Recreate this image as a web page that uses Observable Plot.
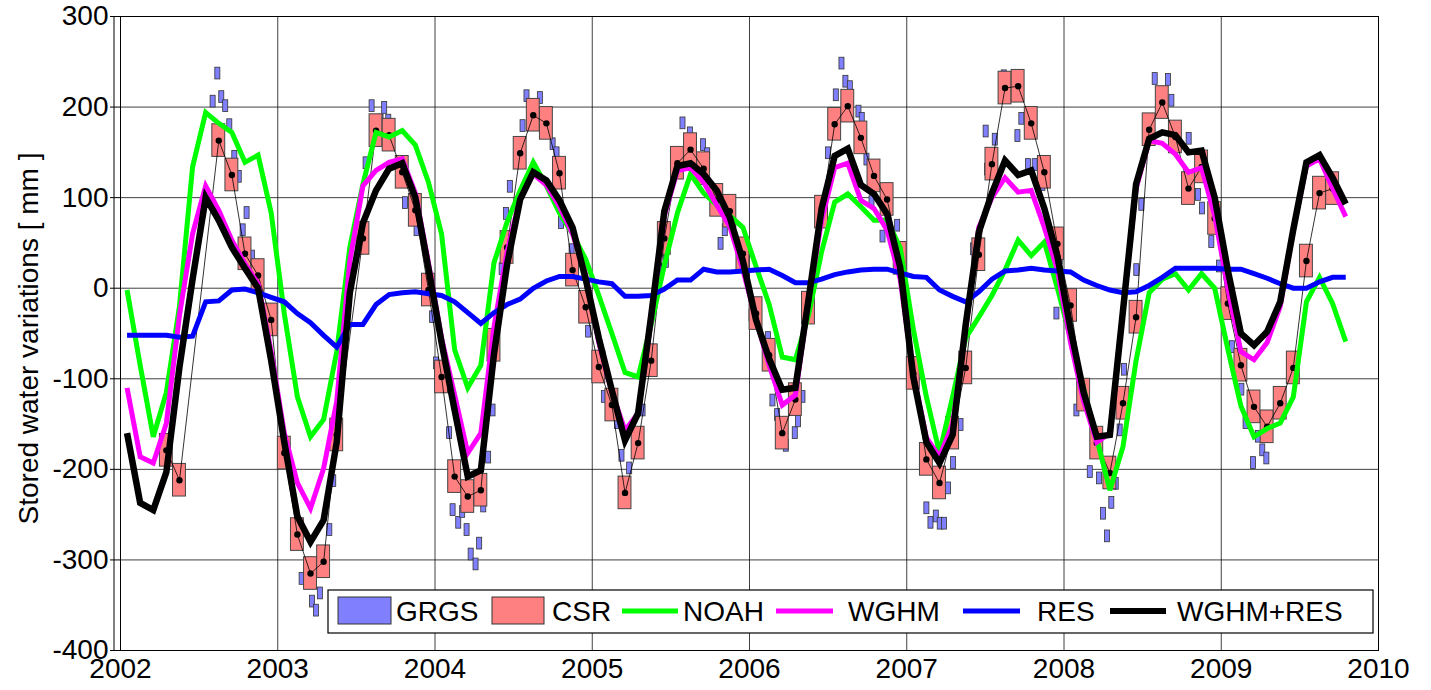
<!DOCTYPE html>
<html><head><meta charset="utf-8">
<script src="https://cdn.jsdelivr.net/npm/d3@7"></script>
<script src="https://cdn.jsdelivr.net/npm/@observablehq/plot@0.6"></script>
<style>
html,body{margin:0;padding:0;background:#fff;}
#chart{width:1431px;height:690px;}
</style></head><body><div id="chart"></div>
<script>
// Monthly model series, Jan 2002 .. Oct 2009 (mid-month)
const startYear = 2002;
const noah = [
  -2, -85, -164, -115, -20, 134, 194, 182, 172, 139, 147, 83,
  -28, -120, -164, -145, -70, 45, 115, 172, 167, 174, 158, 117,
  60, -68, -110, -85, 28, 73, 108, 139, 113, 83, 60, 32,
  -8, -50, -93, -98, -40, 25, 83, 126, 105, 92, 80, 67,
  24, -18, -76, -79, -30, 40, 95, 104, 90, 75, 75, 45,
  -45, -120, -182, -120, -55, -32, -8, 20, 53, 36, 51, 0,
  -55, -111, -166, -223, -175, -80, -5, 10, 16, -2, 16, 0,
  -67, -130, -164, -155, -149, -120, -15, 12, -17, -59
];
const wghm = [
  -110, -186, -193, -149, -30, 60, 113, 86, 53, 27, 5, -70,
  -160, -215, -243, -199, -125, 30, 113, 130, 139, 143, 105, 28,
  -55, -118, -182, -160, -43, 40, 100, 126, 114, 90, 60, 15,
  -60, -115, -157, -138, -35, 80, 130, 133, 117, 92, 68, 20,
  -35, -85, -129, -118, -15, 75, 133, 138, 97, 88, 64, 10,
  -95, -165, -186, -150, -45, 67, 100, 122, 106, 108, 67, 20,
  -60, -125, -170, -160, -25, 110, 163, 160, 148, 128, 133, 80,
  0, -70, -79, -60, -20, 65, 135, 143, 110, 79
];
const res = [
  -52, -52, -52, -52, -54, -53, -15, -14, -2, -1, -5, -10,
  -15, -28, -38, -52, -65, -40, -40, -18, -7, -5, -4, -6,
  -8, -15, -27, -39, -27, -18, -12, 0, 8, 13, 13, 10,
  7, 5, -9, -9, -8, -1, 9, 9, 21, 18, 18, 19,
  20, 21, 14, 6, 6, 10, 15, 18, 20, 21, 21, 17,
  13, 12, -2, -9, -15, -4, 10, 19, 20, 22, 20, 19,
  18, 9, 3, -2, -5, -4, 3, 12, 22, 22, 22, 22,
  21, 21, 16, 11, 5, 0, 0, 7, 12, 12
];
const wghmRes = [
  -160, -237, -245, -203, -87, 10, 100, 75, 45, 22, 0, -80,
  -170, -252, -280, -256, -170, -5, 72, 108, 132, 138, 100, 22,
  -60, -135, -208, -201, -73, 26, 98, 128, 119, 97, 67, 10,
  -55, -113, -168, -138, -30, 85, 135, 138, 126, 108, 78, 30,
  -35, -78, -112, -110, -13, 88, 146, 154, 114, 104, 82, 23,
  -98, -170, -193, -162, -40, 62, 105, 141, 125, 130, 88, 35,
  -45, -115, -164, -162, -25, 115, 165, 172, 169, 150, 152, 100,
  20, -50, -63, -48, -15, 65, 139, 147, 122, 93
];

// CSR monthly GRACE solutions (with gaps)
const csrMonths = [
  "2002-04","2002-05","2002-08","2002-09","2002-10","2002-11","2002-12",
  "2003-01","2003-02","2003-03","2003-04","2003-05","2003-07","2003-08","2003-09","2003-10","2003-11","2003-12",
  "2004-01","2004-02","2004-03","2004-04","2004-05","2004-06","2004-07","2004-08","2004-09","2004-10","2004-11","2004-12",
  "2005-01","2005-02","2005-03","2005-04","2005-05","2005-06","2005-07","2005-08","2005-09","2005-10","2005-11","2005-12",
  "2006-01","2006-02","2006-03","2006-04","2006-05","2006-06","2006-07","2006-08","2006-09","2006-10","2006-11","2006-12",
  "2007-01","2007-02","2007-03","2007-04","2007-05","2007-06","2007-07","2007-08","2007-09","2007-10","2007-11","2007-12",
  "2008-01","2008-02","2008-03","2008-04","2008-05","2008-06","2008-07","2008-08","2008-09","2008-10","2008-11","2008-12",
  "2009-01","2009-02","2009-03","2009-04","2009-05","2009-06","2009-07","2009-08","2009-09"
];
const csrValues = [
  -179, -212, 163, 125, 38, 14, -35,
  -182, -272, -315, -302, -162, 55, 174, 169, 128, 86, -2,
  -98, -208, -230, -223, -63, 45, 149, 191, 182, 127, 20, -21,
  -87, -129, -226, -171, -80, 55, 138, 153, 132, 97, 85, 38,
  -28, -74, -160, -123, -22, 84, 181, 201, 166, 124, 98, 33,
  -94, -189, -215, -160, -88, 37, 137, 221, 223, 182, 128, 49,
  -19, -118, -171, -204, -127, -32, 175, 205, 167, 110, 134, 77,
  -17, -85, -131, -153, -127, -88, 30, 105, 110
];

// GRGS 10-day solutions (decimal year, mm)
const grgsTimes = [
  2002.290, 2002.589, 2002.619, 2002.644, 2002.669, 2002.695, 2002.727, 2002.755, 2002.780, 2002.805, 2002.839,
  2003.155, 2003.221, 2003.246, 2003.271, 2003.331, 2003.356, 2003.562, 2003.600, 2003.657, 2003.680, 2003.706, 2003.812, 2003.886, 2003.985,
  2004.009, 2004.093, 2004.115, 2004.151, 2004.176, 2004.204, 2004.230, 2004.261, 2004.284, 2004.310, 2004.341, 2004.369,
  2004.427, 2004.454, 2004.479, 2004.560, 2004.585, 2004.670, 2004.751, 2004.776, 2004.804, 2004.872, 2004.967, 2004.977,
  2005.077, 2005.161, 2005.189, 2005.238, 2005.323, 2005.433, 2005.471, 2005.577, 2005.624, 2005.708, 2005.734, 2005.819, 2005.846,
  2006.016, 2006.121, 2006.149, 2006.179, 2006.234, 2006.291, 2006.312, 2006.340, 2006.503, 2006.552, 2006.588, 2006.613, 2006.641, 2006.696, 2006.717, 2006.747, 2006.779, 2006.849, 2006.942,
  2007.128, 2007.154, 2007.188, 2007.213, 2007.240, 2007.266, 2007.298, 2007.345, 2007.425, 2007.505, 2007.514, 2007.563, 2007.620, 2007.707, 2007.732, 2007.774, 2007.817, 2007.866, 2007.955, 2007.976,
  2008.082, 2008.167, 2008.226, 2008.251, 2008.277, 2008.304, 2008.332, 2008.357, 2008.385, 2008.463, 2008.495, 2008.580, 2008.664, 2008.686, 2008.796, 2008.855, 2008.881, 2008.940, 2008.989,
  2009.071, 2009.131, 2009.158, 2009.205, 2009.236, 2009.264, 2009.290
];
const grgsValues = [
  -179, 206, 237, 211, 201, 180, 145, 123, 64, 83, 35,
  -321, -346, -356, -337, -267, -213, 138, 201, 185, 199, 185, 94, 64, -32,
  -83, -160, -245, -259, -247, -267, -294, -305, -282, -241, -187, -135,
  21, 82, 112, 179, 212, 210, 159, 149, 72, 42, -24, -48,
  -120, -149, -185, -199, -135, 20, 29, 182, 171, 158, 148, 49, 64,
  -30, -55, -124, -140, -174, -160, -147, -120, 149, 213, 248, 228, 222, 195, 187, 142, 95, 57, 69,
  -243, -259, -252, -260, -260, -221, -193, -151, 43, 173, 131, 164, 234, 168, 187, 136, 136, 114, -28, 33,
  -135, -203, -210, -249, -274, -237, -216, -157, -90, 20, 92, 231, 230, 207, 165, 103, 88, 51, 24,
  -65, -112, -149, -193, -164, -179, -188
];

const xTicks = [2002, 2003, 2004, 2005, 2006, 2007, 2008, 2009, 2010];
const yTicks = [-400, -300, -200, -100, 0, 100, 200, 300];
const seriesNames = ["NOAH", "WGHM", "RES", "WGHM+RES"];
const seriesColors = ["#00ff00", "#ff00ff", "#0000ff", "#000000"];
const legendLabels = ["GRGS", "CSR", "NOAH", "WGHM", "RES", "WGHM+RES"];
const yTitle = "Stored water variations [ mm ]";

// ---- build tables ----
const monthT = i => startYear + (i + 0.5) / 12;
const seriesValues = [noah, wghm, res, wghmRes];
const lineData = seriesNames.map((name, k) =>
  seriesValues[k].map((v, i) => ({t: monthT(i), v, name})));
const csr = csrMonths.map((m, i) => {
  const [y, mo] = m.split("-").map(Number);
  return {t: y + (mo - 0.5) / 12, v: csrValues[i]};
});
const grgs = grgsTimes.map((t, i) => ({t, v: grgsValues[i]}));

const font = "'Liberation Sans', Arial, Helvetica, sans-serif";
const widths = [5, 5, 5, 6.5];

const chart = Plot.plot({
  width: 1431,
  height: 690,
  marginLeft: 120,
  marginRight: 53,
  marginTop: 16,
  marginBottom: 40,
  style: {fontFamily: font, fontSize: "28px", background: "#fff", color: "#000", overflow: "visible"},
  x: {domain: [2002, 2010]},
  y: {domain: [-400, 300]},
  marks: [
    Plot.gridX(xTicks, {stroke: "#000", strokeOpacity: 0.75, strokeWidth: 1}),
    Plot.gridY(yTicks, {stroke: "#000", strokeOpacity: 0.75, strokeWidth: 1}),
    Plot.rect(grgs, {x1: d => d.t - 0.016, x2: d => d.t + 0.016, y1: d => d.v - 6.5, y2: d => d.v + 6.5,
      fill: "#8080ff", stroke: "#333", strokeWidth: 0.8}),
    Plot.rect(csr, {x1: d => d.t - 0.041, x2: d => d.t + 0.041, y1: d => d.v - 18, y2: d => d.v + 18,
      fill: "#ff8080", stroke: "#444", strokeWidth: 1}),
    Plot.line(csr, {x: "t", y: "v", stroke: "#000", strokeWidth: 0.8}),
    Plot.dot(csr, {x: "t", y: "v", r: 3.2, fill: "#000", stroke: "none"}),
    ...lineData.map((d, k) => Plot.line(d, {x: "t", y: "v", stroke: seriesColors[k], strokeWidth: widths[k],
      strokeLinejoin: "miter", strokeMiterlimit: 3, strokeLinecap: "butt"})),
    Plot.frame({stroke: "#000", strokeWidth: 1}),
    Plot.axisY(yTicks, {tickSize: 10, tickPadding: 2, label: null, tickFormat: d => String(d), fontSize: 28}),
    Plot.axisX(xTicks, {tickSize: 0, tickPadding: 8, label: null, tickFormat: d => String(d), fontSize: 28}),
    Plot.text([yTitle], {frameAnchor: "left", textAnchor: "middle", dx: -91, dy: 5, rotate: -90, fontSize: 28, fill: "#000"})
  ]
});

document.getElementById("chart").appendChild(chart);

// ---- decorations: offset axis line and in-plot legend ----
const svg = d3.select(chart);
svg.append("line").attr("x1", 114).attr("x2", 114).attr("y1", 16).attr("y2", 650)
  .attr("stroke", "#000").attr("stroke-width", 1);

const lg = svg.append("g").attr("font-family", font).attr("font-size", 28)
  .attr("text-anchor", "start").attr("fill", "#000");
lg.append("rect").attr("x", 328).attr("y", 590).attr("width", 1045).attr("height", 43)
  .attr("fill", "#fff").attr("stroke", "#000").attr("stroke-width", 1.2);
const swatches = [
  {x1: 338, x2: 391, fill: "#8080ff", tx: 396},
  {x1: 492, x2: 544, fill: "#ff8080", tx: 552}
];
swatches.forEach((s, i) => {
  lg.append("rect").attr("x", s.x1).attr("y", 597).attr("width", s.x2 - s.x1).attr("height", 27)
    .attr("fill", s.fill).attr("stroke", "#333").attr("stroke-width", 1);
  lg.append("text").attr("x", s.tx).attr("y", 621).attr("text-anchor", "start").text(legendLabels[i]);
});
const lineItems = [
  {x1: 622, x2: 678, tx: 683},
  {x1: 776, x2: 833, tx: 848},
  {x1: 963, x2: 1020, tx: 1037},
  {x1: 1110, x2: 1166, tx: 1177}
];
lineItems.forEach((s, k) => {
  lg.append("line").attr("x1", s.x1).attr("x2", s.x2).attr("y1", 611).attr("y2", 611)
    .attr("stroke", seriesColors[k]).attr("stroke-width", k === 3 ? 6 : 5);
  lg.append("text").attr("x", s.tx).attr("y", 621).attr("text-anchor", "start").text(legendLabels[k + 2]);
});
</script>
</body></html>
